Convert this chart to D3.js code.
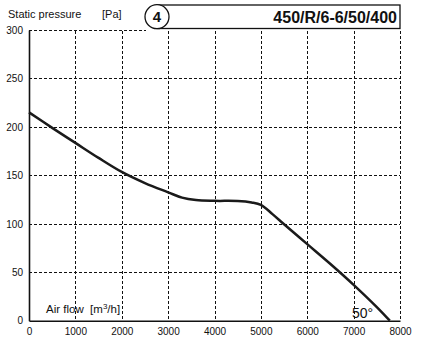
<!DOCTYPE html>
<html>
<head>
<meta charset="utf-8">
<script src="https://cdn.jsdelivr.net/npm/d3@7"></script>
<style>
  body { margin: 0; background: #fff; }
  svg { display: block; }
  text { font-family: "Liberation Sans", Arial, sans-serif; fill: #111; white-space: pre; }
</style>
</head>
<body>
<svg id="chart" width="423" height="346"></svg>
<script>
'use strict';

/* Fan curve: static pressure vs air flow */

var flowTicks = [0, 1000, 2000, 3000, 4000, 5000, 6000, 7000, 8000];
var pressureTicks = [0, 50, 100, 150, 200, 250, 300];

// air flow [m3/h] and static pressure [Pa]
var airFlow  = [0, 500, 1000, 1500, 2000, 2500, 3000, 3300, 3600, 4000, 4500, 4800, 5000, 5250, 5500, 6000, 6500, 7000, 7500, 7780];
var pressure = [215, 199, 183.5, 168, 153.5, 142, 132.5, 127, 124.5, 123.7, 123.5, 122, 119.5, 110, 99.5, 79, 58.5, 37, 14, 0];

var modelName = '450/R/6-6/50/400';
var curveNo = '4';
var bladeAngle = '50°';

var svg = d3.select('#chart');

var x = d3.scaleLinear().domain([0, 8000]).range([29, 400]);
var y = d3.scaleLinear().domain([0, 300]).range([320.7, 30]);

// dashed grid
var grid = svg.append('g')
    .attr('stroke', '#111')
    .attr('stroke-width', 1)
    .attr('stroke-dasharray', '3,2');

grid.selectAll('line.v')
    .data(flowTicks.slice(1))
    .enter().append('line')
    .attr('class', 'v')
    .attr('x1', function (d) { return Math.round(x(d)) + 0.5; })
    .attr('x2', function (d) { return Math.round(x(d)) + 0.5; })
    .attr('y1', y(300) + 1)
    .attr('y2', y(0));

grid.selectAll('line.h')
    .data(pressureTicks.slice(1))
    .enter().append('line')
    .attr('class', 'h')
    .attr('x1', x(0))
    .attr('x2', function (d) { return d === 300 ? 146 : x(8000); })
    .attr('y1', function (d) { return Math.round(y(d)) + 0.5; })
    .attr('y2', function (d) { return Math.round(y(d)) + 0.5; });

// axes
var xAxis = d3.axisBottom(x).tickValues(flowTicks).tickFormat(d3.format('d')).tickSize(0).tickPadding(7);
var yAxis = d3.axisLeft(y).tickValues(pressureTicks).tickFormat(d3.format('d')).tickSize(0).tickPadding(6);

var gx = svg.append('g')
    .attr('transform', 'translate(0,' + y(0) + ')')
    .call(xAxis);
var gy = svg.append('g')
    .attr('transform', 'translate(' + x(0) + ',0)')
    .call(yAxis);

[gx, gy].forEach(function (g) {
    g.select('.domain').attr('stroke', '#111').attr('stroke-width', 1.6);
    g.selectAll('text')
        .attr('font-family', '"Liberation Sans", Arial, sans-serif')
        .attr('font-size', 10)
        .attr('fill', '#1a1a24');
});

// curve
var line = d3.line()
    .x(function (d, i) { return x(airFlow[i]); })
    .y(function (d, i) { return y(pressure[i]); })
    .curve(d3.curveCatmullRom.alpha(0.5));

svg.append('path')
    .datum(pressure)
    .attr('d', line)
    .attr('fill', 'none')
    .attr('stroke', '#1a1a1a')
    .attr('stroke-width', 2.5)
    .attr('stroke-linejoin', 'round');

// header
svg.append('text')
    .attr('x', 8).attr('y', 18)
    .attr('font-size', 11)
    .text('Static pressure');
svg.append('text')
    .attr('x', 102).attr('y', 18)
    .attr('font-size', 11)
    .text('[Pa]');

svg.append('rect')
    .attr('x', 157).attr('y', 5)
    .attr('width', 243).attr('height', 23.5)
    .attr('fill', '#fff')
    .attr('stroke', '#111')
    .attr('stroke-width', 1.3);

svg.append('circle')
    .attr('cx', 157).attr('cy', 16.7).attr('r', 12)
    .attr('fill', '#fff')
    .attr('stroke', '#111')
    .attr('stroke-width', 1.3);

svg.append('text')
    .attr('x', 157).attr('y', 22)
    .attr('text-anchor', 'middle')
    .attr('font-size', 15)
    .attr('font-weight', 'bold')
    .text(curveNo);

svg.append('text')
    .attr('x', 397).attr('y', 23)
    .attr('text-anchor', 'end')
    .attr('font-family', '"DejaVu Sans Condensed", "DejaVu Sans", sans-serif')
    .attr('font-stretch', 'condensed')
    .attr('font-size', 16)
    .attr('font-weight', 'bold')
    .text(modelName);

// labels inside plot
var flowLabel = svg.append('text')
    .attr('x', 46).attr('y', 313)
    .attr('font-size', 11.5);
flowLabel.append('tspan').text('Air flow  [m');
flowLabel.append('tspan').attr('dy', -4).attr('font-size', 8).text('3');
flowLabel.append('tspan').attr('dy', 4).text('/h]');

svg.append('text')
    .attr('x', 352).attr('y', 318)
    .attr('font-size', 14)
    .text(bladeAngle);
</script>
</body>
</html>
